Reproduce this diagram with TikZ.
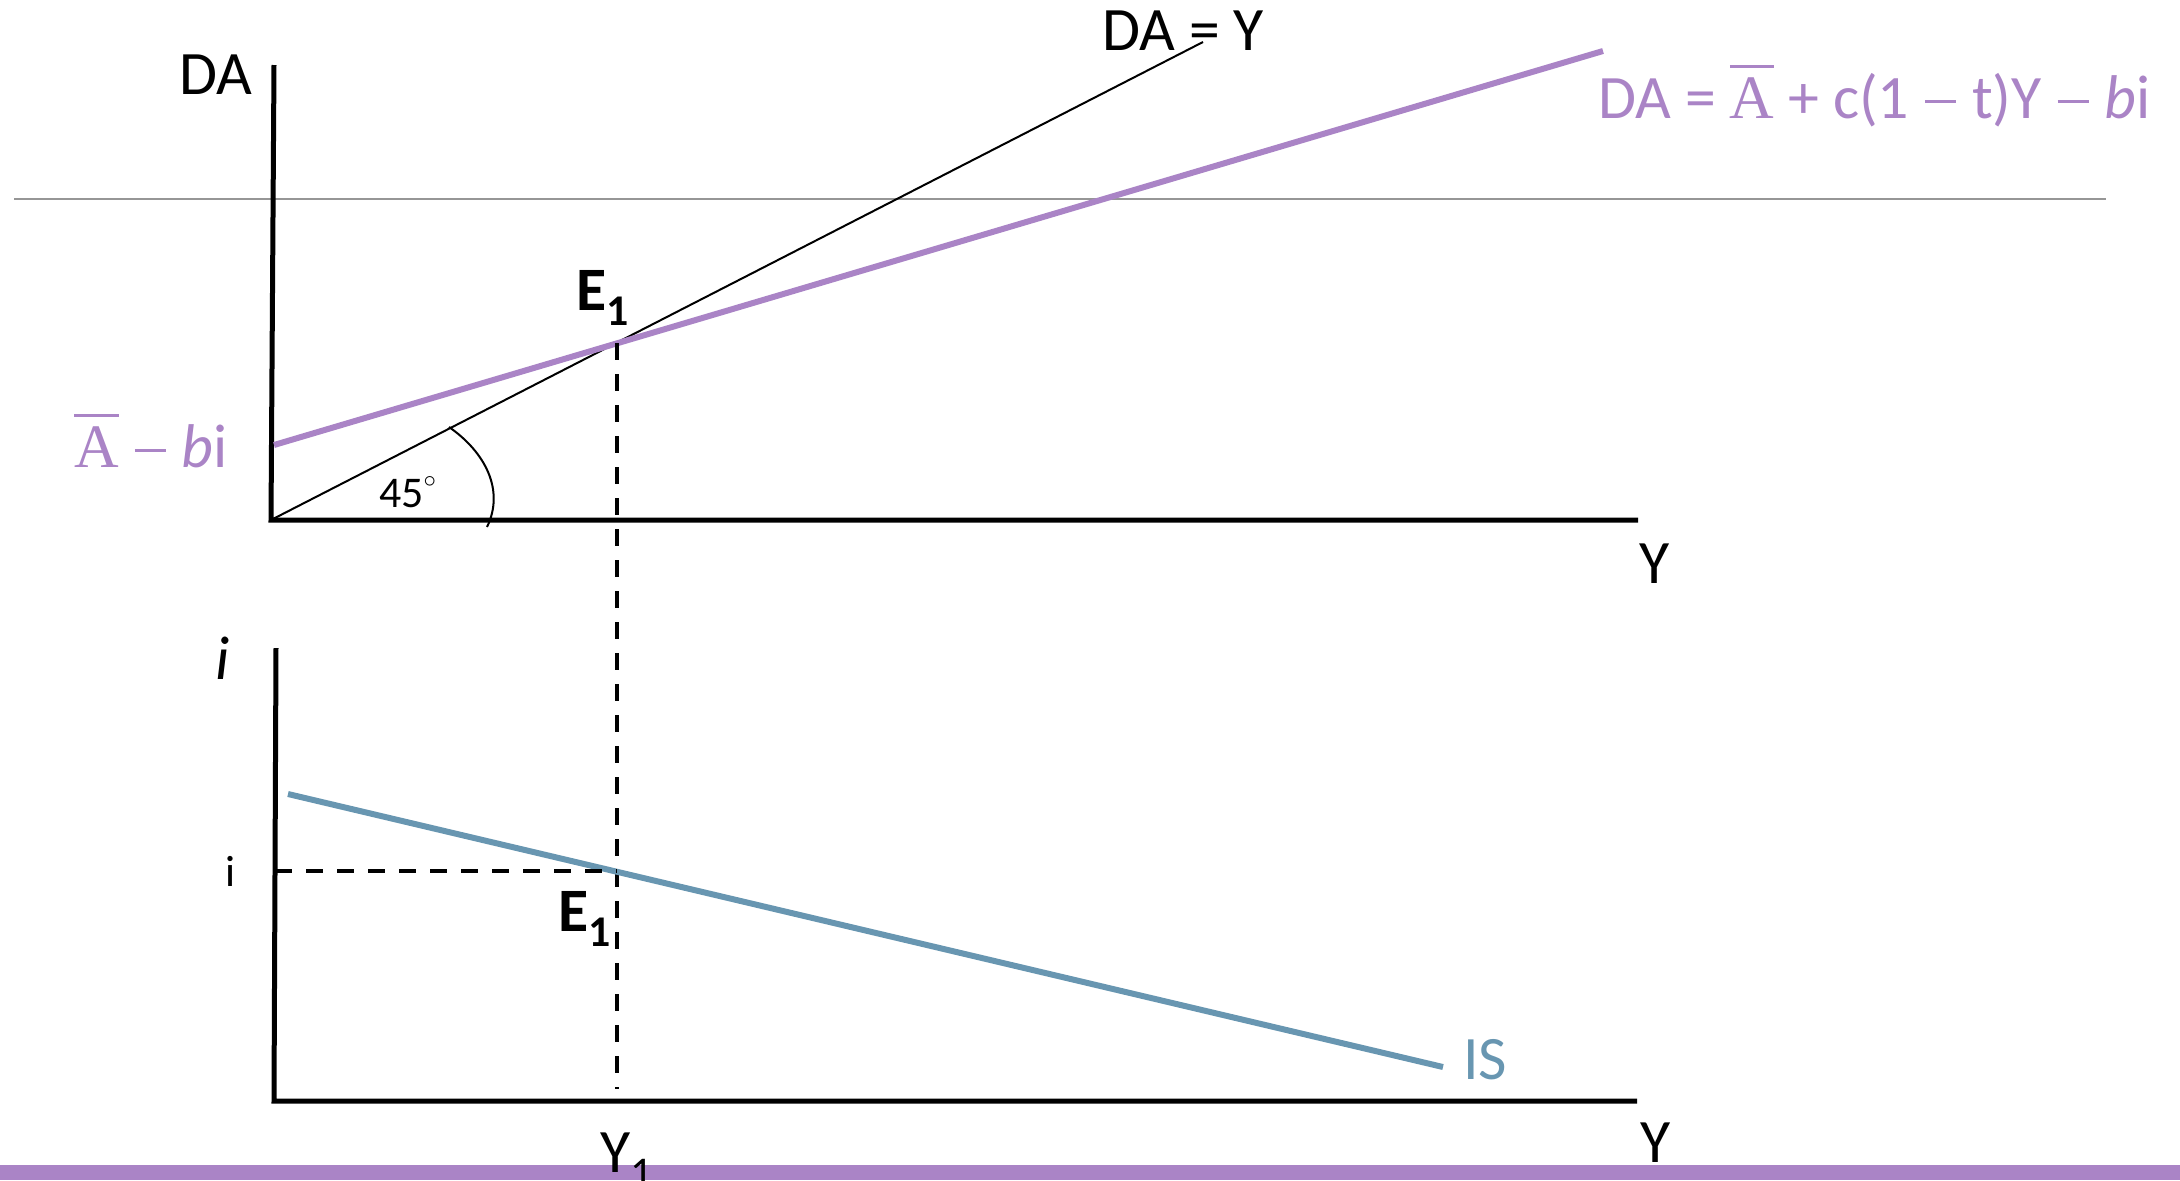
\documentclass[tikz,border=0pt]{standalone}
\usepackage{fontspec}
\setmainfont{Carlito}
\newfontfamily\serifA{Liberation Serif}
\definecolor{pcol}{RGB}{170,132,198}
\definecolor{iscol}{RGB}{104,150,177}
\definecolor{gcol}{RGB}{150,150,150}
\newcommand{\Abar}{\leavevmode\setbox0\hbox{\serifA A}\rlap{\raisebox{50bp}{\rule{\wd0}{3.5bp}}}\box0}
\newcommand{\mns}{\kern16bp\rule[0.25em]{0.5em}{3bp}\kern16bp}
\begin{document}
\begin{tikzpicture}[x=1bp,y=-1bp,
  axis/.style={line width=5bp,black,line cap=butt},
  lbl/.style={inner sep=0pt,font=\fontsize{62}{70}\selectfont},
  smalllbl/.style={inner sep=0pt,font=\fontsize{44}{50}\selectfont},
  dashline/.style={line width=3.5bp,dash pattern=on 17bp off 14bp},
  pline/.style={line width=6bp,pcol},
  isline/.style={line width=6bp,iscol},
  thinline/.style={line width=2bp,black}]
\useasboundingbox (0,0) rectangle (2180,1180);
% separator and bottom bar
\coordinate (gL) at (14,199);
\coordinate (gR) at (2106,199);
\draw[gcol,line width=1.5bp] (gL) -- (gR);
\fill[pcol] (0,1165) rectangle (2180,1180);
% top panel
\coordinate (Atop) at (274,65);
\coordinate (O1) at (271,520);
\coordinate (Aend) at (1638,520);
\draw[axis] (Atop) -- (O1) -- (Aend);
\coordinate (DYend) at (1203,42);
\draw[thinline] (O1) -- (DYend);
\coordinate (Pstart) at (274,445);
\coordinate (Pend) at (1603,51);
\draw[pline] (Pstart) -- (Pend);
\coordinate (E1) at (617,343);
\coordinate (Y1foot) at (617,1089);
\draw[dashline] (E1) -- (Y1foot);
\coordinate (arcA) at (449,427);
\coordinate (arcB) at (487,527);
\draw[line width=2bp] (arcA) .. controls (485,452) and (505,490) .. (arcB);
\node[lbl,anchor=base] (DAlab) at (216,94) {DA};
\node[lbl,anchor=base west] (DAYlab) at (1102,50) {DA = Y};
\node[lbl,anchor=base west,text=pcol] (eqlab) at (1598,118) {DA = \Abar{} + c(1\mns t)Y\mns\textit{b}i};
\node[lbl,anchor=base west,text=pcol] (interlab) at (74,467) {\Abar\mns\textit{b}i};
\node[lbl,anchor=base west,font=\fontsize{62}{70}\selectfont\bfseries] (E1top) at (576,310) {E\raisebox{-15bp}{\fontsize{44}{50}\selectfont 1}};
\node[smalllbl,anchor=base west] (anglab) at (379,507) {45\raisebox{20bp}{\fontsize{30}{30}\selectfont\(\circ\)}};
\node[lbl,anchor=base] (Ytop) at (1655,583) {Y};
% bottom panel
\coordinate (Btop) at (276,648);
\coordinate (O2) at (274,1101);
\coordinate (Bend) at (1637,1101);
\draw[axis] (Btop) -- (O2) -- (Bend);
\coordinate (ISstart) at (288,794);
\coordinate (ISend) at (1443,1067);
\draw[isline] (ISstart) -- (ISend);
\coordinate (iax) at (275,871);
\coordinate (E1b) at (617,871);
\draw[dashline] (iax) -- (E1b);
\node[lbl,anchor=base,font=\fontsize{62}{70}\selectfont\itshape] (ilab) at (223,679) {i};
\node[smalllbl,anchor=base] (ismall) at (231,886) {i};
\node[lbl,anchor=base west,font=\fontsize{62}{70}\selectfont\bfseries] (E1bot) at (558,931) {E\raisebox{-15bp}{\fontsize{44}{50}\selectfont 1}};
\node[lbl,anchor=base west,text=iscol] (ISlab) at (1463,1079) {IS};
\node[lbl,anchor=base] (Ybot) at (1656,1162) {Y};
\node[lbl,anchor=base west] (Y1lab) at (600,1172) {Y\raisebox{-15bp}{\fontsize{44}{50}\selectfont 1}};
\end{tikzpicture}
\end{document}
